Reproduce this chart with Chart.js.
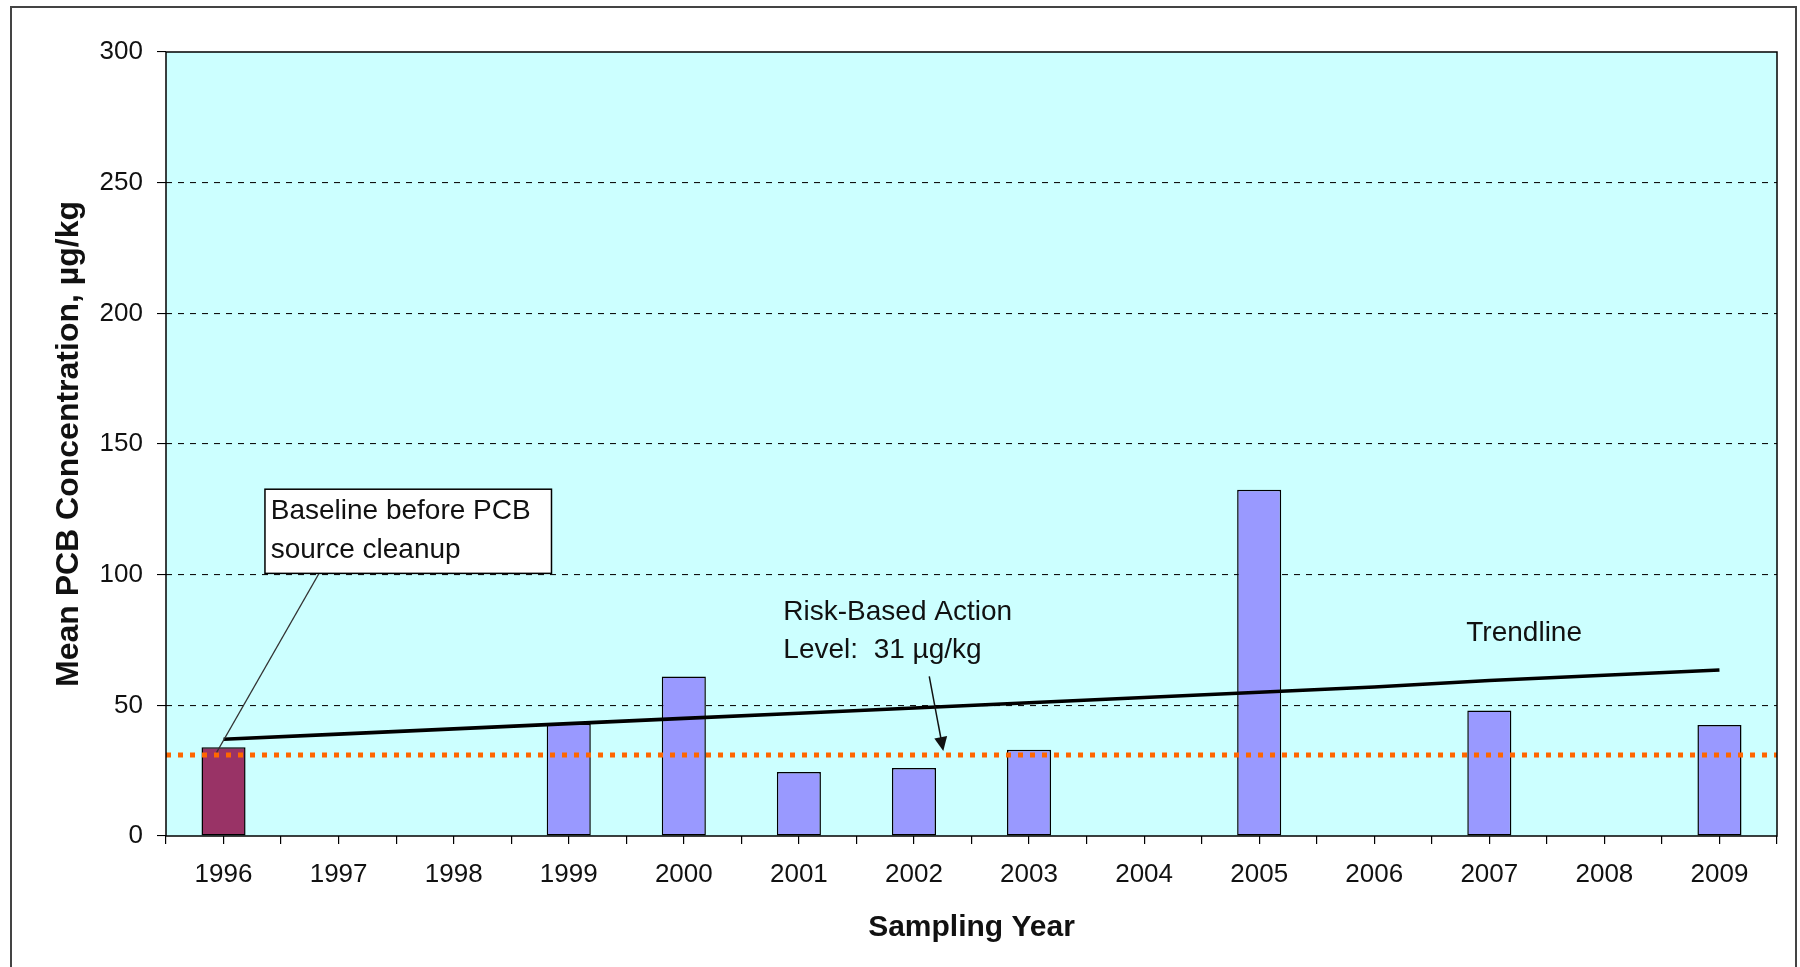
<!DOCTYPE html>
<html>
<head>
<meta charset="utf-8">
<script src="https://cdn.jsdelivr.net/npm/chart.js@4.4.1/dist/chart.umd.min.js"></script>
<style>
  html, body { margin: 0; padding: 0; background: #fff; }
  canvas { display: block; }
</style>
</head>
<body>
<canvas id="myChart" width="1800" height="967"></canvas>
<script>
const years = ['1996', '1997', '1998', '1999', '2000', '2001', '2002', '2003', '2004', '2005', '2006', '2007', '2008', '2009'];
const pcbMean = [34, null, null, 43, 61, 24.5, 26, 33, null, 132.5, null, 48, null, 42.5];
const trendValues = [37, 39, 41, 43, 45, 47, 49, 51, 53, 55, 57, 59.5, 61.5, 63.5];
const actionLevel = 31;
const yTicks = [0, 50, 100, 150, 200, 250, 300];

const FONT = "'Liberation Sans', Arial, sans-serif";

// tick marks sit at every category edge and every category centre
function halfSteps() {
    const out = [];
    for (let i = 0; i < years.length; i++) {
        out.push({ value: i - 0.5 }, { value: i });
    }
    out.push({ value: years.length - 0.5 });
    return out;
}

const decor = {
    id: 'decor',
    beforeDraw(chart) {
        const { ctx, chartArea: a } = chart;
        ctx.save();
        ctx.fillStyle = '#fff';
        ctx.fillRect(0, 0, chart.width, chart.height);
        ctx.fillStyle = '#CCFFFF';
        ctx.fillRect(a.left, a.top, a.width, a.height);
        // outer frame, bottom edge runs off the picture
        ctx.strokeStyle = '#444';
        ctx.lineWidth = 2;
        ctx.beginPath();
        ctx.moveTo(11, chart.height + 5);
        ctx.lineTo(11, 7);
        ctx.lineTo(1796, 7);
        ctx.lineTo(1796, chart.height + 5);
        ctx.stroke();
        ctx.restore();
    },
    afterDatasetsDraw(chart) {
        const { ctx, chartArea: a, scales } = chart;
        const X = v => scales.xt.getPixelForValue(v);
        const Y = v => scales.y.getPixelForValue(v);
        ctx.save();

        // plot frame
        ctx.strokeStyle = '#000';
        ctx.lineWidth = 1.5;
        ctx.strokeRect(a.left, a.top, a.width, a.height);

        ctx.font = '28px ' + FONT;
        ctx.fillStyle = '#111';
        ctx.textBaseline = 'middle';
        ctx.textAlign = 'left';

        // baseline callout
        ctx.strokeStyle = '#333';
        ctx.lineWidth = 1.2;
        ctx.beginPath();
        ctx.moveTo(X(0.83), Y(100.5));
        ctx.lineTo(X(-0.06), Y(32));
        ctx.stroke();
        const bx = X(0.36), by = Y(132.7);
        ctx.fillStyle = '#fff';
        ctx.fillRect(bx, by, X(2.85) - bx, Y(100.5) - by);
        ctx.strokeStyle = '#000';
        ctx.lineWidth = 1.5;
        ctx.strokeRect(bx, by, X(2.85) - bx, Y(100.5) - by);
        ctx.fillStyle = '#111';
        ctx.fillText('Baseline before PCB', X(0.41), Y(124.3));
        ctx.fillText('source cleanup', X(0.41), Y(109.3));

        // action level label and arrow
        ctx.fillText('Risk-Based Action', X(4.865), Y(85.5));
        ctx.fillText('Level:  31 µg/kg', X(4.865), Y(71));
        const x0 = X(6.133), y0 = Y(61.1), x1 = X(6.255), y1 = Y(32.5);
        const ang = Math.atan2(y1 - y0, x1 - x0);
        const head = 14;
        ctx.strokeStyle = '#111';
        ctx.lineWidth = 1.5;
        ctx.beginPath();
        ctx.moveTo(x0, y0);
        ctx.lineTo(x1 - head * 0.8 * Math.cos(ang), y1 - head * 0.8 * Math.sin(ang));
        ctx.stroke();
        ctx.beginPath();
        ctx.moveTo(x1, y1);
        ctx.lineTo(x1 - head * Math.cos(ang) + 6.5 * Math.sin(ang), y1 - head * Math.sin(ang) - 6.5 * Math.cos(ang));
        ctx.lineTo(x1 - head * Math.cos(ang) - 6.5 * Math.sin(ang), y1 - head * Math.sin(ang) + 6.5 * Math.cos(ang));
        ctx.closePath();
        ctx.fill();

        ctx.fillText('Trendline', X(10.8), Y(77.5));
        ctx.restore();
    }
};

const ctx = document.getElementById('myChart').getContext('2d');
const myChart = new Chart(ctx, {
    type: 'bar',
    data: {
        labels: years,
        datasets: [{
            label: 'Mean PCB',
            data: pcbMean,
            backgroundColor: c => c.dataIndex === 0 ? '#993366' : '#9999FF',
            borderColor: '#000',
            borderWidth: 1.5,
            borderSkipped: false,
            grouped: false,
            categoryPercentage: 1,
            barPercentage: 0.383,
            order: 2
        }, {
            type: 'line',
            label: 'Trendline',
            data: trendValues,
            borderColor: '#000',
            borderWidth: 3.6,
            pointRadius: 0,
            tension: 0,
            order: 1
        }, {
            type: 'line',
            label: 'Risk-Based Action Level',
            xAxisID: 'xt',
            data: [{ x: -0.5, y: actionLevel }, { x: years.length - 0.5, y: actionLevel }],
            borderColor: '#FF6600',
            borderWidth: 5,
            borderDash: [5, 7],
            pointRadius: 0,
            order: 0
        }]
    },
    options: {
        responsive: false,
        animation: false,
        devicePixelRatio: 1,
        layout: {
            padding: { top: 52, right: 23, left: 0, bottom: 0 }
        },
        scales: {
            x: {
                display: false,
                offset: true
            },
            xt: {
                type: 'linear',
                position: 'bottom',
                offset: false,
                min: -0.5,
                max: years.length - 0.5,
                afterBuildTicks: axis => { axis.ticks = halfSteps(); },
                afterFit: s => { s.height = 131; },
                grid: {
                    offset: false,
                    drawOnChartArea: false,
                    drawTicks: true,
                    tickLength: 8,
                    color: '#000',
                    lineWidth: 1.2
                },
                border: { display: false },
                ticks: {
                    autoSkip: false,
                    maxRotation: 0,
                    minRotation: 0,
                    padding: 15,
                    color: '#111',
                    font: { family: FONT, size: 26 },
                    callback: v => Number.isInteger(v) ? years[v] : ''
                },
                title: {
                    display: true,
                    text: 'Sampling Year',
                    color: '#111',
                    font: { family: FONT, size: 30, weight: 'bold' },
                    padding: { top: 0, bottom: 21 }
                }
            },
            y: {
                min: 0,
                max: 300,
                afterBuildTicks: axis => { axis.ticks = yTicks.map(v => ({ value: v })); },
                afterFit: s => { s.width = 166; },
                grid: {
                    color: c => (c.tick && (c.tick.value === 0 || c.tick.value === 300)) ? 'rgba(0,0,0,0)' : '#111',
                    tickColor: '#000',
                    lineWidth: 1.1,
                    tickLength: 9,
                    tickBorderDash: []
                },
                border: { display: false, dash: [6, 6] },
                ticks: {
                    padding: 14,
                    color: '#111',
                    font: { family: FONT, size: 26 }
                },
                title: {
                    display: true,
                    text: 'Mean PCB Concentration, µg/kg',
                    color: '#111',
                    font: { family: FONT, size: 32, weight: 'bold' },
                    padding: { top: 50, bottom: 0 }
                }
            }
        },
        plugins: {
            legend: { display: false },
            tooltip: { enabled: false }
        }
    },
    plugins: [decor]
});
</script>
</body>
</html>
